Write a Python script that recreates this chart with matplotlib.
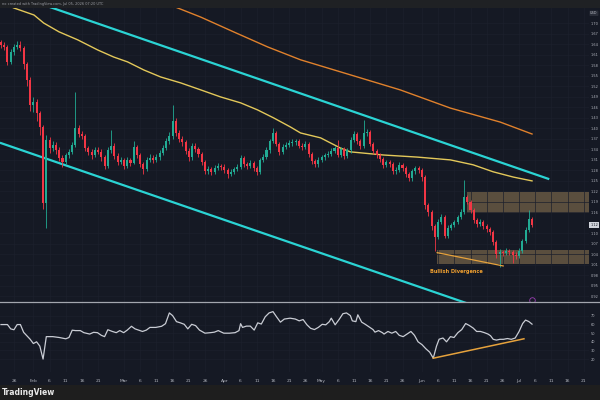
import datetime as dt
import numpy as np
import matplotlib
matplotlib.use("Agg")
import matplotlib.pyplot as plt
from matplotlib.patches import Rectangle

# daily candles, Jan 22 .. Jul 05 2026
first_open = 1.646
closes = [1.637, 1.632, 1.589, 1.617, 1.632, 1.637, 1.629, 1.583, 1.537, 1.466,
          1.475, 1.443, 1.403, 1.186, 1.366, 1.343, 1.352, 1.337, 1.315, 1.303,
          1.323, 1.332, 1.352, 1.400, 1.383, 1.377, 1.343, 1.332, 1.323, 1.337,
          1.332, 1.317, 1.292, 1.337, 1.349, 1.320, 1.303, 1.309, 1.292, 1.309,
          1.300, 1.346, 1.323, 1.297, 1.283, 1.309, 1.315, 1.309, 1.317, 1.329,
          1.343, 1.363, 1.377, 1.420, 1.386, 1.369, 1.360, 1.335, 1.317, 1.349,
          1.340, 1.326, 1.303, 1.277, 1.283, 1.275, 1.286, 1.292, 1.289, 1.280,
          1.269, 1.275, 1.283, 1.289, 1.315, 1.297, 1.292, 1.300, 1.286, 1.275,
          1.309, 1.317, 1.337, 1.363, 1.386, 1.355, 1.332, 1.346, 1.352, 1.357,
          1.360, 1.363, 1.349, 1.346, 1.355, 1.326, 1.306, 1.297, 1.309, 1.317,
          1.323, 1.326, 1.335, 1.343, 1.323, 1.340, 1.320, 1.337, 1.366, 1.383,
          1.363, 1.349, 1.386, 1.389, 1.355, 1.335, 1.323, 1.312, 1.295, 1.303,
          1.297, 1.277, 1.280, 1.295, 1.286, 1.269, 1.257, 1.277, 1.286, 1.280,
          1.260, 1.180, 1.160, 1.120, 1.089, 1.132, 1.146, 1.092, 1.115, 1.123,
          1.132, 1.146, 1.160, 1.203, 1.189, 1.166, 1.137, 1.126, 1.132, 1.120,
          1.112, 1.103, 1.075, 1.040, 1.046, 1.043, 1.049, 1.046, 1.037, 1.035,
          1.049, 1.077, 1.109, 1.140, 1.123]
highs = [1.652, 1.645, 1.638, 1.625, 1.640, 1.648, 1.650, 1.635, 1.590, 1.545,
         1.490, 1.482, 1.450, 1.410, 1.380, 1.375, 1.362, 1.360, 1.345, 1.322,
         1.330, 1.340, 1.360, 1.503, 1.410, 1.392, 1.384, 1.350, 1.340, 1.345,
         1.346, 1.340, 1.322, 1.345, 1.394, 1.356, 1.328, 1.318, 1.315, 1.316,
         1.314, 1.362, 1.352, 1.328, 1.302, 1.316, 1.325, 1.322, 1.326, 1.338,
         1.352, 1.372, 1.388, 1.466, 1.428, 1.395, 1.376, 1.366, 1.342, 1.356,
         1.357, 1.346, 1.332, 1.308, 1.292, 1.290, 1.294, 1.300, 1.298, 1.296,
         1.285, 1.283, 1.290, 1.296, 1.322, 1.320, 1.304, 1.308, 1.306, 1.292,
         1.315, 1.326, 1.345, 1.370, 1.400, 1.392, 1.360, 1.354, 1.360, 1.365,
         1.368, 1.370, 1.368, 1.356, 1.362, 1.360, 1.332, 1.312, 1.316, 1.324,
         1.330, 1.334, 1.342, 1.350, 1.366, 1.347, 1.345, 1.344, 1.374, 1.392,
         1.390, 1.368, 1.423, 1.398, 1.394, 1.360, 1.340, 1.328, 1.318, 1.310,
         1.310, 1.302, 1.288, 1.302, 1.300, 1.292, 1.275, 1.284, 1.293, 1.292,
         1.286, 1.266, 1.186, 1.166, 1.126, 1.140, 1.155, 1.152, 1.122, 1.130,
         1.138, 1.152, 1.168, 1.252, 1.210, 1.195, 1.172, 1.142, 1.140, 1.138,
         1.126, 1.118, 1.108, 1.080, 1.054, 1.052, 1.056, 1.055, 1.052, 1.045,
         1.056, 1.084, 1.116, 1.166, 1.146]
lows = [1.630, 1.622, 1.580, 1.583, 1.610, 1.626, 1.620, 1.570, 1.520, 1.450,
        1.445, 1.420, 1.380, 1.170, 1.115, 1.330, 1.335, 1.325, 1.305, 1.290,
        1.296, 1.315, 1.326, 1.345, 1.375, 1.368, 1.335, 1.322, 1.312, 1.318,
        1.325, 1.305, 1.283, 1.286, 1.330, 1.312, 1.295, 1.297, 1.282, 1.285,
        1.292, 1.296, 1.315, 1.288, 1.270, 1.278, 1.302, 1.300, 1.302, 1.310,
        1.322, 1.336, 1.355, 1.370, 1.378, 1.360, 1.350, 1.326, 1.306, 1.310,
        1.332, 1.318, 1.295, 1.268, 1.270, 1.265, 1.268, 1.280, 1.280, 1.272,
        1.258, 1.262, 1.268, 1.276, 1.284, 1.290, 1.284, 1.286, 1.278, 1.266,
        1.270, 1.303, 1.311, 1.330, 1.356, 1.348, 1.322, 1.326, 1.340, 1.346,
        1.350, 1.352, 1.342, 1.338, 1.340, 1.318, 1.298, 1.288, 1.290, 1.302,
        1.310, 1.316, 1.320, 1.328, 1.316, 1.316, 1.312, 1.314, 1.330, 1.360,
        1.355, 1.340, 1.344, 1.378, 1.348, 1.326, 1.315, 1.302, 1.285, 1.288,
        1.290, 1.268, 1.270, 1.274, 1.278, 1.260, 1.248, 1.250, 1.270, 1.272,
        1.250, 1.170, 1.148, 1.108, 1.050, 1.082, 1.125, 1.085, 1.086, 1.108,
        1.116, 1.126, 1.140, 1.155, 1.182, 1.158, 1.130, 1.118, 1.120, 1.112,
        1.104, 1.095, 1.066, 1.030, 1.003, 1.034, 1.036, 1.038, 1.015, 1.026,
        1.028, 1.044, 1.072, 1.104, 1.118]

# moving averages (day index, price)
ma_fast_days = [0, 4, 10.2, 13.2, 17.9, 23.7, 29.9, 34.8, 39.1, 44.1, 49.3, 55.5, 61.7,
                67.8, 74, 79.2, 84.2, 89.4, 92.5, 98.7, 104.8, 107.9, 118.1, 128.6,
                138.8, 145.8, 152, 158.2, 164]
ma_fast = [1.76, 1.743, 1.723, 1.700, 1.675, 1.652, 1.623, 1.603, 1.589, 1.566, 1.546,
           1.529, 1.509, 1.489, 1.472, 1.452, 1.429, 1.403, 1.386, 1.372, 1.343, 1.332,
           1.323, 1.317, 1.309, 1.295, 1.275, 1.260, 1.249]
ma_slow_days = [50, 54.6, 61.7, 71.8, 82.3, 92.5, 107.9, 123.3, 138.8, 154.2, 164]
ma_slow = [1.76, 1.743, 1.717, 1.675, 1.632, 1.595, 1.552, 1.509, 1.457, 1.417, 1.383]

# descending channel
upper_days, upper_px = [10, 169], [1.762, 1.255]
lower_days, lower_px = [0, 150], [1.357, 0.880]

# supply / demand zones (start day, low, high)
zones = [(144.0, 1.157, 1.218), (134.7, 1.012, 1.052)]
div_price_days, div_price = [134.7, 155.1], [1.044, 1.006]

# RSI(14) (day index, value)
rsi_points = [
    (0, 60), (2, 60), (3, 55), (4, 54), (5, 60), (6, 60), (7, 51), (9, 43), (10, 38),
    (11, 40), (12, 35), (13, 20), (14, 46), (16, 46), (18, 45), (20, 43.5), (21, 45),
    (22, 53.5), (23, 53), (24.5, 53), (25.6, 50.6), (27.4, 49), (28.6, 51), (29.8, 50.6),
    (31, 47.5), (32, 46), (33, 54), (34.4, 52), (35.6, 50.6), (36.7, 53), (37.9, 50.6),
    (39, 53.6), (40.3, 58), (41.4, 55), (42.5, 53.6), (43.7, 52), (44.9, 53.6),
    (46, 56.7), (47.8, 56.7), (49.6, 58), (50.8, 61), (52, 73.5), (53, 70.4),
    (54.2, 63.4), (55.4, 62), (56.6, 60.3), (57.7, 55), (58.9, 60.3), (60.1, 58.8),
    (61.3, 53.6), (63, 50), (64.7, 50.6), (65.9, 51.2), (67.1, 53), (68.8, 50),
    (70.6, 50), (72.3, 50.6), (73.5, 53), (74, 61), (74.6, 56.7), (75.8, 58.2),
    (77, 58.2), (78.2, 53.6), (79.3, 62), (80.4, 60.6), (81.6, 69), (82.8, 73.5),
    (84, 75), (85.1, 69), (86.3, 62.8), (87.5, 66.4), (89.3, 67.4), (90.9, 66.4),
    (92.1, 64.3), (93.3, 65.8), (94.5, 59.7), (95.6, 55.7), (96.8, 54.2), (98, 56.7),
    (99.2, 60.3), (100.3, 59.7), (101.4, 63.4), (102, 67.4), (103.2, 59.7),
    (104.4, 65.8), (105.6, 72.6), (106.7, 73.5), (107.9, 70.4), (108.5, 64.3),
    (109.6, 63.4), (110.2, 71.3), (111.4, 62.8), (112.5, 60.3), (113.7, 57.3),
    (114.9, 54.2), (115.5, 51.2), (116.6, 53), (117.8, 50.6), (118.3, 49), (119.5, 52),
    (120.7, 50), (121.9, 52), (123, 47.5), (124.2, 46), (125.4, 49), (126.6, 52),
    (127.7, 47.5), (128.8, 40), (130, 36.8), (131.2, 32), (132.4, 28), (133.5, 21),
    (134.5, 35), (135.3, 43), (136.5, 44.4), (137.6, 40), (138.8, 46), (139.9, 45),
    (141.1, 50.6), (142.3, 54.2), (143.5, 61.2), (144.6, 59), (145.8, 56), (146.9, 52),
    (148.1, 52), (149.3, 50.6), (150.4, 49), (151.2, 47), (152, 42.9), (153, 42),
    (154.1, 42.9), (155.2, 42.9), (156.4, 43.8), (157.6, 42.9), (158.8, 44.4),
    (160, 52), (161.1, 61.2), (162, 65.2), (163, 63.5), (164, 60.5)]
div_rsi_days, div_rsi = [133.5, 161.5], [21, 43.5]

start = dt.date(2026, 1, 22)
bg = "#151924"
up_c, dn_c = "#22ab94", "#f23645"
axis_txt = "#b2b5be"
grid_c = "#1c202c"
lab_size = 2.5

fig = plt.figure(figsize=(6, 4), dpi=100, facecolor=bg)
ax = fig.add_axes([0, 0.245, 0.9817, 0.735], facecolor=bg)
ax_rsi = fig.add_axes([0, 0.07, 0.9817, 0.1725], facecolor=bg, sharex=ax)

days = np.arange(len(closes))
c = np.array(closes)
o = np.concatenate([[first_open], c[:-1]])
colors = np.where(c >= o, up_c, dn_c)
last = closes[-1]

for x0, lo, hi in zones:
    ax.add_patch(Rectangle((x0, lo), 182 - x0, hi - lo, facecolor="#5a4e3e",
                           edgecolor="none", zorder=1))

ax.plot(upper_days, upper_px, color="#2bd4d4", lw=1.6, zorder=2)
ax.plot(lower_days, lower_px, color="#2bd4d4", lw=1.6, zorder=2)
ax.plot(ma_fast_days, ma_fast, color="#e3c85a", lw=1.0, zorder=2)
ax.plot(ma_slow_days, ma_slow, color="#e0812c", lw=1.0, zorder=2)

ax.vlines(days, lows, highs, colors=colors, lw=0.6, zorder=3)
ax.bar(days, np.maximum(np.abs(c - o), 0.002), bottom=np.minimum(c, o), width=0.62,
       color=colors, zorder=4)

ax.plot(div_price_days, div_price, color="#e6a23c", lw=0.9, zorder=5)
ax.text(140.5, 0.989, "Bullish Divergence", color="#f0a030", fontsize=3.6,
        fontweight="bold", ha="center", va="center", zorder=6)
ax.plot([164], [0.909], marker="o", ms=4, mfc="none", mec="#9c3fb5", mew=0.6,
        zorder=6)

ax.set_xlim(-0.3, 181.6)
ax.set_ylim(0.903, 1.743)
yt = [v for v in np.arange(0.92, 1.71, 0.03) if abs(v - last) > 0.012]
ax.set_yticks(yt)
ax.set_yticklabels([f"{v:.2f}" for v in yt])
ax.yaxis.tick_right()
ax.tick_params(axis="y", length=0, labelsize=lab_size, colors=axis_txt, pad=1.2)
ax.tick_params(axis="x", length=0, labelbottom=False)
ax.grid(True, color=grid_c, lw=0.5)
for s in ax.spines.values():
    s.set_visible(False)
ax.text(1.002, last, f"{last:.2f}", transform=ax.get_yaxis_transform(),
        fontsize=lab_size, color="#131722", va="center", ha="left",
        bbox=dict(boxstyle="square,pad=0.25", fc="#d1d4dc", ec="none"))
ax.text(1.002, 0.982, "USD", transform=ax.transAxes, fontsize=lab_size,
        color=axis_txt, va="center", ha="left",
        bbox=dict(boxstyle="round,pad=0.2", fc="#2a2e39", ec="none"))

rsi_days = [p[0] for p in rsi_points]
rsi_vals = [p[1] for p in rsi_points]
ax_rsi.plot(rsi_days, rsi_vals, color="#c9ccd4", lw=0.9)
ax_rsi.plot(div_rsi_days, div_rsi, color="#e6a23c", lw=1.1)
ax_rsi.set_ylim(5, 85)
ax_rsi.set_yticks([20, 30, 40, 50, 60, 70])
ax_rsi.yaxis.tick_right()
ax_rsi.tick_params(axis="y", length=0, labelsize=lab_size, colors=axis_txt, pad=1.2)
ax_rsi.grid(True, color=grid_c, lw=0.5)
for s in ax_rsi.spines.values():
    s.set_visible(False)

# TradingView style date ticks: month name on the 1st, then every 5 days
ticks, labels = [], []
for d in range(0, 182):
    day = start + dt.timedelta(days=d)
    if day.day in (1, 6, 11, 16, 21, 26):
        if day.day == 26 and (day + dt.timedelta(days=4)).month != day.month:
            continue
        ticks.append(d)
        labels.append(day.strftime("%b") if day.day == 1 else str(day.day))
ax_rsi.set_xticks(ticks)
ax_rsi.set_xticklabels(labels)
ax_rsi.tick_params(axis="x", length=0, labelsize=3.2, colors=axis_txt, pad=5)

# pane divider, header and footer bars
fig.add_artist(plt.Line2D([0, 1], [0.2455, 0.2455], color="#a3a6ae", lw=0.9))
fig.add_artist(Rectangle((0, 0.98), 1, 0.02, transform=fig.transFigure,
                         facecolor="#1f2124", edgecolor="none"))
fig.text(0.003, 0.99, "no created with TradingView.com, Jul 05, 2026 07:20 UTC",
         fontsize=2.5, color="#9a9ca3", va="center", ha="left")
fig.add_artist(Rectangle((0, 0), 1, 0.0375, transform=fig.transFigure,
                         facecolor="#1e1e1e", edgecolor="none"))
fig.text(0.003, 0.0195, "TradingView", fontsize=5.5, fontweight="bold",
         color="#e8e8e8", va="center", ha="left")

fig.savefig("out.png", dpi=100, facecolor=bg)
